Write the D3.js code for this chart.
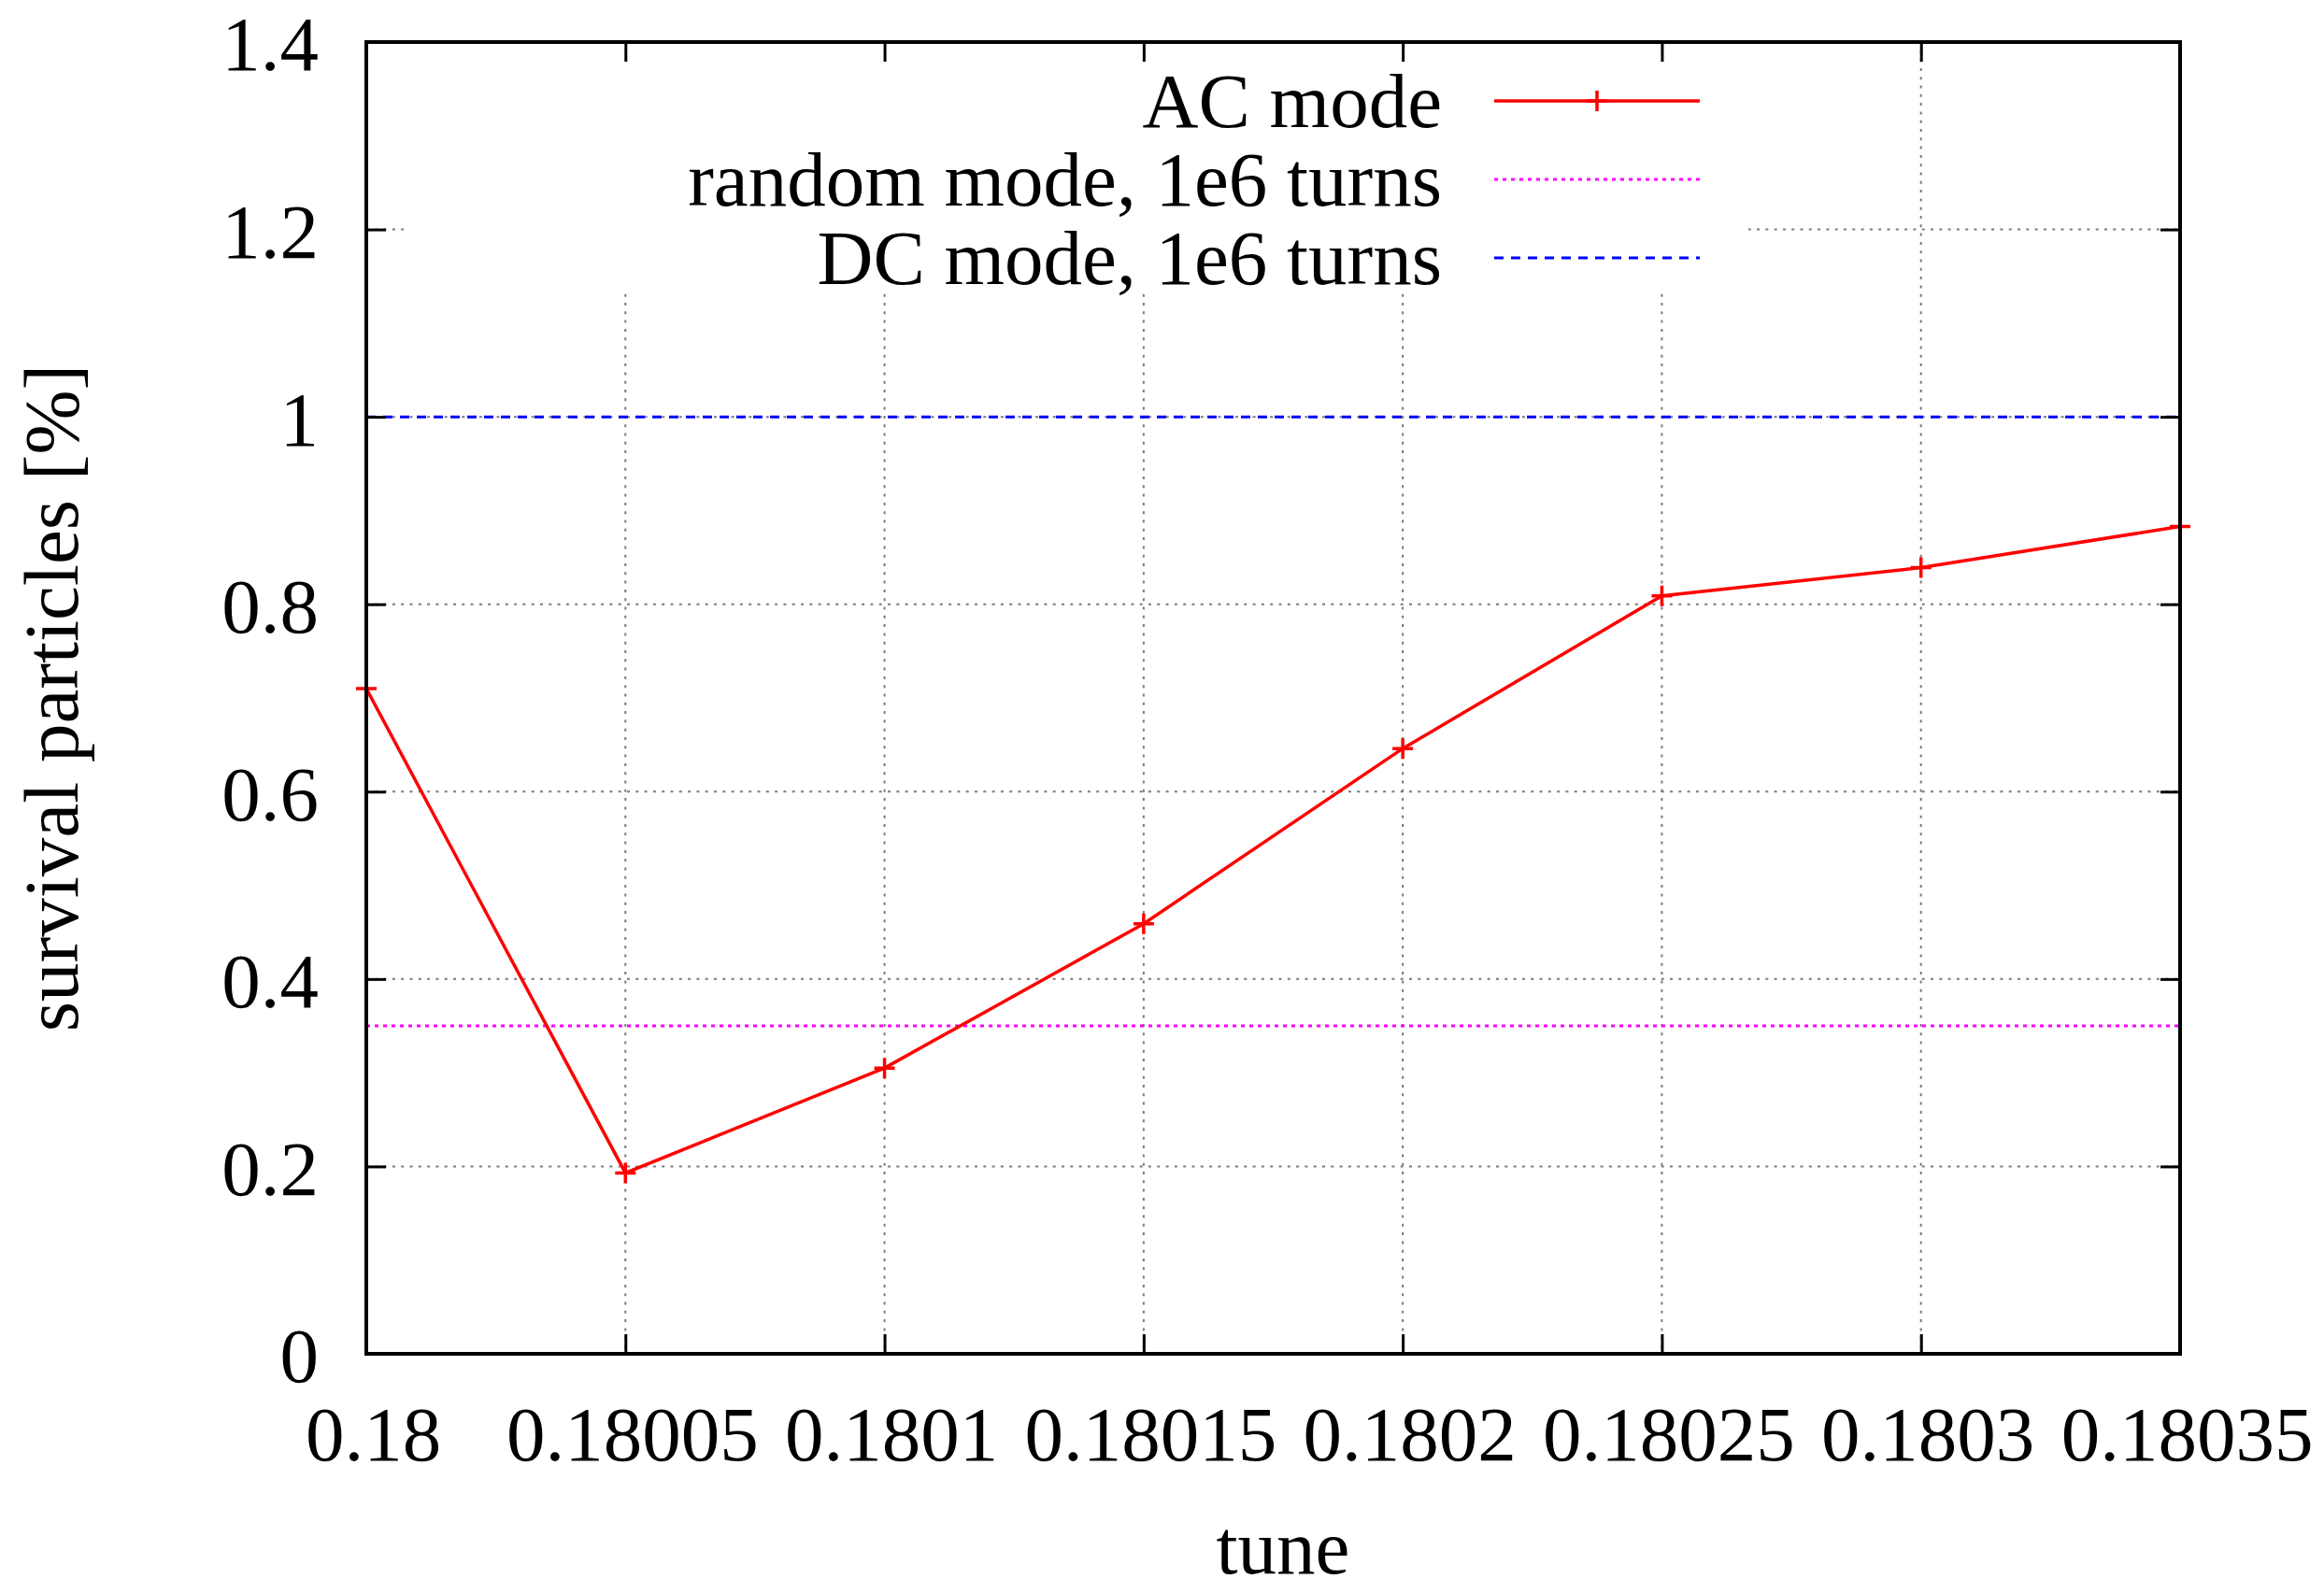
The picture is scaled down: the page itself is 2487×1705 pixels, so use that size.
<!DOCTYPE html>
<html>
<head>
<meta charset="utf-8">
<script src="https://cdn.jsdelivr.net/npm/d3@7"></script>
<style>
  body { margin: 0; background: #fff; }
  svg { display: block; }
  text { font-family: "Liberation Serif", "DejaVu Serif", serif; fill: #000; }
</style>
</head>
<body>
<div id="chart"></div>
<script>
// Survival vs. tune for the three excitation modes
const tune = [0.18, 0.18005, 0.1801, 0.18015, 0.1802, 0.18025, 0.1803, 0.18035];
const acSurvival = [0.71, 0.193, 0.305, 0.459, 0.646, 0.809, 0.839, 0.883];
const randomSurvival = 0.35;
const dcSurvival = 1.0;

const xTickValues = [0.18, 0.18005, 0.1801, 0.18015, 0.1802, 0.18025, 0.1803, 0.18035];
const xTickLabels = ["0.18", "0.18005", "0.1801", "0.18015", "0.1802", "0.18025", "0.1803", "0.18035"];
const yTickValues = [0, 0.2, 0.4, 0.6, 0.8, 1, 1.2, 1.4];
const yTickLabels = ["0", "0.2", "0.4", "0.6", "0.8", "1", "1.2", "1.4"];

const legendLabels = ["AC mode", "random mode, 1e6 turns", "DC mode, 1e6 turns"];

const W = 2487, H = 1705;
const margin = { top: 45, right: 154, bottom: 256, left: 392 };
const width = W - margin.left - margin.right;
const height = H - margin.top - margin.bottom;
const fontSize = 83;
const tickLen = 21;

const svg = d3.select("#chart").append("svg")
    .attr("width", W)
    .attr("height", H);

const g = svg.append("g")
    .attr("transform", `translate(${margin.left},${margin.top})`);

const x = d3.scaleLinear().domain([0.18, 0.18035]).range([0, width]);
const y = d3.scaleLinear().domain([0, 1.4]).range([height, 0]);

// grid
const grid = g.append("g")
    .attr("stroke", "#7a7a7a")
    .attr("stroke-width", 2)
    .attr("stroke-dasharray", "3,6.3");

grid.selectAll(".vgrid")
    .data(xTickValues.slice(1, -1))
    .join("line")
    .attr("x1", d => x(d)).attr("x2", d => x(d))
    .attr("y1", 0).attr("y2", height);

grid.selectAll(".hgrid")
    .data(yTickValues.slice(1, -1))
    .join("line")
    .attr("x1", 0).attr("x2", width)
    .attr("y1", d => y(d)).attr("y2", d => y(d));

// key box blanks the grid behind it
g.append("rect")
    .attr("x", 44)
    .attr("y", 0)
    .attr("width", 1435)
    .attr("height", 269)
    .attr("fill", "#fff");

// constant levels
g.append("line")
    .attr("x1", 0).attr("x2", width)
    .attr("y1", y(randomSurvival)).attr("y2", y(randomSurvival))
    .attr("stroke", "#ff00ff")
    .attr("stroke-width", 3)
    .attr("stroke-dasharray", "4,5");

g.append("line")
    .attr("x1", 0).attr("x2", width)
    .attr("y1", y(dcSurvival)).attr("y2", y(dcSurvival))
    .attr("stroke", "#0000ff")
    .attr("stroke-width", 3)
    .attr("stroke-dasharray", "10,8");

// AC mode curve
const acData = tune.map((t, i) => ({ t: t, v: acSurvival[i] }));

const line = d3.line()
    .x(d => x(d.t))
    .y(d => y(d.v));

g.append("path")
    .datum(acData)
    .attr("fill", "none")
    .attr("stroke", "#ff0000")
    .attr("stroke-width", 3.5)
    .attr("d", line);

const plusPath = (cx, cy, r) => `M${cx - r},${cy}H${cx + r}M${cx},${cy - r}V${cy + r}`;

g.append("g")
    .selectAll("path")
    .data(acData)
    .join("path")
    .attr("d", d => plusPath(x(d.t), y(d.v), 11))
    .attr("stroke", "#ff0000")
    .attr("stroke-width", 3.5)
    .attr("fill", "none");

// axes with inward ticks on all four sides
const xAxis = d3.axisBottom(x)
    .tickValues(xTickValues)
    .tickFormat((d, i) => xTickLabels[i])
    .tickSizeInner(-tickLen)
    .tickSizeOuter(0)
    .tickPadding(55);

const yAxis = d3.axisLeft(y)
    .tickValues(yTickValues)
    .tickFormat((d, i) => yTickLabels[i])
    .tickSizeInner(-tickLen)
    .tickSizeOuter(0)
    .tickPadding(51);

const xGroup = g.append("g")
    .attr("transform", `translate(0,${height})`)
    .call(xAxis);

const yGroup = g.append("g").call(yAxis);

g.append("g")
    .call(d3.axisTop(x).tickValues(xTickValues).tickFormat("").tickSizeInner(-tickLen).tickSizeOuter(0));

g.append("g")
    .attr("transform", `translate(${width},0)`)
    .call(d3.axisRight(y).tickValues(yTickValues).tickFormat("").tickSizeInner(-tickLen).tickSizeOuter(0));

g.selectAll(".domain").remove();
g.selectAll(".tick line")
    .attr("stroke", "#000")
    .attr("stroke-width", 3);

g.selectAll(".tick text")
    .style("font-family", '"Liberation Serif", serif')
    .style("font-size", fontSize + "px")
    .attr("fill", "#000");

xGroup.selectAll(".tick text").attr("dx", 7);
yGroup.selectAll(".tick text").attr("dy", "0.36em");

// frame
g.append("rect")
    .attr("width", width)
    .attr("height", height)
    .attr("fill", "none")
    .attr("stroke", "#000")
    .attr("stroke-width", 4);

// axis titles
svg.append("text")
    .attr("x", 1373)
    .attr("y", 1684)
    .attr("text-anchor", "middle")
    .style("font-size", fontSize + "px")
    .text("tune");

svg.append("text")
    .attr("transform", `translate(83,${margin.top + height / 2}) rotate(-90)`)
    .attr("text-anchor", "middle")
    .style("font-size", fontSize + "px")
    .text("survival particles [%]");

// key
const keyRows = [108, 192, 276];
const keyTextRight = 1543;
const keyLineX = [1599, 1819];
const keyStyles = [
    { color: "#ff0000", width: 3.5, dash: null, mark: true },
    { color: "#ff00ff", width: 3, dash: "4,5", mark: false },
    { color: "#0000ff", width: 3, dash: "10,8", mark: false }
];

const key = svg.append("g");

legendLabels.forEach((label, i) => {
    const cy = keyRows[i];
    const s = keyStyles[i];
    key.append("text")
        .attr("x", keyTextRight)
        .attr("y", cy + 28)
        .attr("text-anchor", "end")
        .style("font-size", fontSize + "px")
        .text(label);
    key.append("line")
        .attr("x1", keyLineX[0]).attr("x2", keyLineX[1])
        .attr("y1", cy).attr("y2", cy)
        .attr("stroke", s.color)
        .attr("stroke-width", s.width)
        .attr("stroke-dasharray", s.dash);
    if (s.mark) {
        key.append("path")
            .attr("d", plusPath((keyLineX[0] + keyLineX[1]) / 2, cy, 11))
            .attr("stroke", s.color)
            .attr("stroke-width", s.width);
    }
});
</script>
</body>
</html>
